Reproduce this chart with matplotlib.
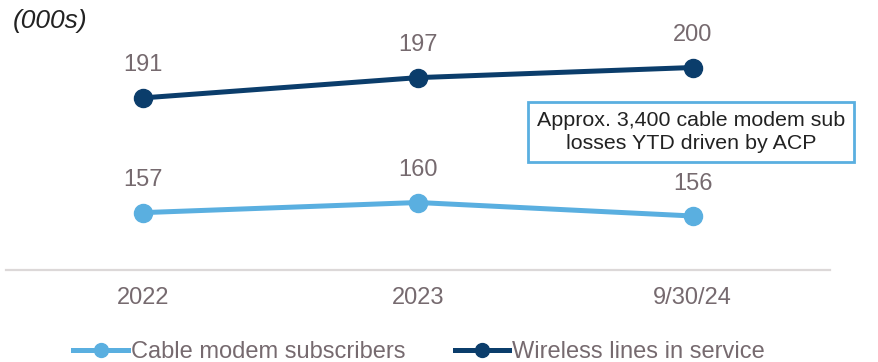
import matplotlib.pyplot as plt
from matplotlib.lines import Line2D

plt.rcParams['font.family'] = ['Liberation Sans', 'DejaVu Sans']

periods = ['2022', '2023', '9/30/24']
cable_modem = [157, 160, 156]
wireless = [191, 197, 200]

light = '#5aafe0'
dark = '#0b3d6b'
grey = '#766a6f'

fig = plt.figure(figsize=(8.79, 3.62), dpi=100)
ax = fig.add_axes([6 / 879, 92 / 362, 824 / 879, 270 / 362])

x = range(len(periods))
ax.plot(x, cable_modem, color=light, lw=3.6, marker='o', ms=13, zorder=3)
ax.plot(x, wireless, color=dark, lw=3.6, marker='o', ms=13, zorder=3)

for series in (cable_modem, wireless):
    for i, v in enumerate(series):
        ax.annotate(str(v), (i, v), xytext=(0, 19), textcoords='offset points',
                    ha='center', va='baseline', fontsize=17, color=grey)

ax.set_xlim(-0.5, 2.5)
ax.set_ylim(140, 220)
ax.set_yticks([])
ax.set_xticks(list(x))
ax.set_xticklabels(periods, fontsize=17, color=grey)
ax.tick_params(axis='x', length=0, pad=12)
for s in ['top', 'right', 'left']:
    ax.spines[s].set_visible(False)
ax.spines['bottom'].set_color('#dcd8d8')
ax.spines['bottom'].set_linewidth(1.6)
ax.patch.set_alpha(0)

fig.text(13 / 879, 1 - 21 / 362, '(000s)', fontsize=19, style='italic',
         color='#222222', ha='left', va='center')

fig.text(691 / 879, 1 - 132 / 362,
         'Approx. 3,400 cable modem sub\nlosses YTD driven by ACP',
         fontsize=15.4, color='#222222', ha='center', va='center',
         linespacing=1.3,
         bbox=dict(boxstyle='square,pad=0.4', fc='white', ec=light, lw=2))

handles = [Line2D([], [], color=light, lw=3.6, marker='o', ms=10),
           Line2D([], [], color=dark, lw=3.6, marker='o', ms=10)]
fig.legend(handles, ['Cable modem subscribers', 'Wireless lines in service'],
           loc='center', bbox_to_anchor=(419 / 879, 1 - 352 / 362), ncol=2,
           frameon=False, fontsize=17, labelcolor=grey, handlelength=2.3,
           handletextpad=0.12, columnspacing=2.1, borderpad=0)

fig.savefig('out.png', dpi=100)
